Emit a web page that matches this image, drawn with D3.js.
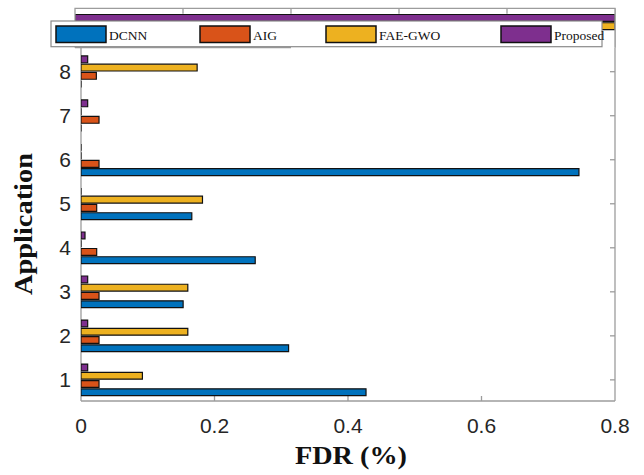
<!DOCTYPE html>
<html>
<head>
<meta charset="utf-8">
<script src="https://cdn.jsdelivr.net/npm/d3@7/dist/d3.min.js"></script>
<style>
  html, body { margin: 0; padding: 0; background: #fff; }
  svg { display: block; }
</style>
</head>
<body>
<svg id="chart" width="644" height="475"></svg>
<script>
// FDR per application for each method
const categories = [1, 2, 3, 4, 5, 6, 7, 8, 9];
const seriesNames = ["DCNN", "AIG", "FAE-GWO", "Proposed"];
const dcnn     = [0.427, 0.311, 0.153, 0.261, 0.166, 0.746, 0, 0, null];
const aig      = [0.027, 0.027, 0.027, 0.0235, 0.0235, 0.027, 0.027, 0.023, null];
const faeGwo   = [0.092, 0.160, 0.160, 0, 0.182, 0, 0, 0.174, 1.0];
const proposed = [0.010, 0.010, 0.010, 0.006, 0, 0, 0.010, 0.010, 1.0];
const xTicks = [0, 0.2, 0.4, 0.6, 0.8];
const yTicks = [1, 2, 3, 4, 5, 6, 7, 8];
const topTicks = [0.2, 0.4, 0.6, 0.8];

const seriesValues = [dcnn, aig, faeGwo, proposed];
const colors = ["#0072BD", "#D95319", "#EDB120", "#7E2F8E"];
const axisGray = "#9c9c9c";

const svg = d3.select("#chart");

// main axes
const x = d3.scaleLinear().domain([0, 0.8]).range([81, 615]);
const y = d3.scaleLinear().domain([0.52, 9.44]).range([401, 8.3]);
// offset of each series inside a category group (category units)
const offset = d3.scaleBand().domain(seriesNames).range([-0.375, 0.375])
  .paddingInner(0.17).paddingOuter(0.085);

// upper strip axes that shows application 9
const xTop = d3.scaleLinear().domain([0, 1]).range([75, 615]);
const yTop = d3.scaleLinear().domain([8.61, 9.5]).range([47.5, 8.3]);

const defs = svg.append("defs");
defs.append("clipPath").attr("id", "clipMain").append("rect")
  .attr("x", x(0)).attr("y", y(9.44)).attr("width", x(0.8) - x(0)).attr("height", y(0.52) - y(9.44));
defs.append("clipPath").attr("id", "clipTop").append("rect")
  .attr("x", xTop(0)).attr("y", yTop(9.5)).attr("width", xTop(1) - xTop(0)).attr("height", yTop(8.61) - yTop(9.5));

// bar as a closed path so zero-length bars still show their edge
function barPath(xs, ys, cat, name, v) {
  const y0 = ys(cat + offset(name)), y1 = ys(cat + offset(name) + offset.bandwidth());
  const a = xs(0), b = xs(v);
  return `M${a},${y0}H${b}V${y1}H${a}Z`;
}

// frame lines of main axes
const frame = svg.append("g").attr("stroke", axisGray).attr("stroke-width", 1.3).attr("fill", "none");
frame.append("line").attr("x1", x(0)).attr("x2", x(0)).attr("y1", y(9.44)).attr("y2", y(0.52));
frame.append("line").attr("x1", x(0.8)).attr("x2", x(0.8)).attr("y1", y(9.44)).attr("y2", y(0.52));
frame.append("line").attr("x1", x(0)).attr("x2", x(0.8)).attr("y1", y(0.52)).attr("y2", y(0.52));
// inward ticks
frame.selectAll(".bt").data(xTicks.slice(1, -1)).join("line")
  .attr("x1", d => x(d)).attr("x2", d => x(d)).attr("y1", y(0.52)).attr("y2", y(0.52) - 5);
frame.selectAll(".rt").data(yTicks).join("line")
  .attr("x1", x(0.8)).attr("x2", x(0.8) - 5).attr("y1", d => y(d)).attr("y2", d => y(d));

// bars of the main axes
const bars = svg.append("g").attr("clip-path", "url(#clipMain)");
seriesNames.forEach((name, si) => {
  const vals = seriesValues[si];
  bars.selectAll(null)
    .data(categories.map((c, i) => ({ c, v: vals[i] })).filter(d => d.v !== null && d.c <= 8))
    .join("path")
    .attr("d", d => barPath(x, y, d.c, name, d.v))
    .attr("fill", colors[si]).attr("stroke", "#111").attr("stroke-width", 1.2);
});

// upper strip
const strip = svg.append("g");
strip.append("rect").attr("x", xTop(0)).attr("y", yTop(9.5))
  .attr("width", xTop(1) - xTop(0)).attr("height", yTop(8.61) - yTop(9.5)).attr("fill", "#fff");
const stripBars = strip.append("g").attr("clip-path", "url(#clipTop)");
seriesNames.forEach((name, si) => {
  const vals = seriesValues[si];
  stripBars.selectAll(null)
    .data(categories.map((c, i) => ({ c, v: vals[i] })).filter(d => d.v !== null && d.c === 9))
    .join("path")
    .attr("d", d => barPath(xTop, yTop, d.c, name, d.v))
    .attr("fill", colors[si]).attr("stroke", "#111").attr("stroke-width", 1.2);
});
const sf = strip.append("g").attr("stroke", axisGray).attr("stroke-width", 1.3).attr("fill", "none");
sf.append("path").attr("d", `M${xTop(0)},${yTop(8.61)}V${yTop(9.5)}H${xTop(1)}V${yTop(8.61)}`);
sf.append("line").attr("x1", xTop(0)).attr("x2", xTop(0.4)).attr("y1", yTop(8.61)).attr("y2", yTop(8.61));
sf.selectAll(".tt").data(topTicks).join("line")
  .attr("x1", d => xTop(d)).attr("x2", d => xTop(d)).attr("y1", yTop(9.5)).attr("y2", yTop(9.5) + 5.5);

// tick labels
const tickFont = "'Liberation Sans', Arial, sans-serif";
svg.append("g").selectAll("text").data(xTicks).join("text")
  .attr("x", d => x(d)).attr("y", 432.5)
  .attr("text-anchor", "middle").attr("font-family", tickFont).attr("font-size", 21)
  .attr("fill", "#262626").text(d => d === 0 ? "0" : d3.format(".1f")(d));
svg.append("g").selectAll("text").data(yTicks).join("text")
  .attr("x", 71).attr("y", d => y(d) + 7.5)
  .attr("text-anchor", "end").attr("font-family", tickFont).attr("font-size", 21)
  .attr("fill", "#262626").text(d => d);

// axis titles
const titleFont = "'Liberation Serif', 'Times New Roman', serif";
svg.append("text").attr("x", 351).attr("y", 464)
  .attr("text-anchor", "middle").attr("font-family", titleFont).attr("font-weight", "bold")
  .attr("font-size", 25).attr("fill", "#111")
  .attr("textLength", 112).attr("lengthAdjust", "spacingAndGlyphs").text("FDR (%)");
svg.append("text").attr("transform", "translate(32,224) rotate(-90)")
  .attr("text-anchor", "middle").attr("font-family", titleFont).attr("font-weight", "bold")
  .attr("font-size", 25).attr("fill", "#111")
  .attr("textLength", 142).attr("lengthAdjust", "spacingAndGlyphs").text("Application");

// legend
const legend = svg.append("g");
legend.append("rect").attr("x", 51).attr("y", 21).attr("width", 551).attr("height", 25.7)
  .attr("fill", "#fff").attr("stroke", "#8a8a8a").attr("stroke-width", 1.2);
const legendX = [56, 200, 326, 501];
seriesNames.forEach((name, i) => {
  legend.append("rect").attr("x", legendX[i]).attr("y", 26).attr("width", 50).attr("height", 16.5)
    .attr("fill", colors[i]).attr("stroke", "#111").attr("stroke-width", 1.5);
  legend.append("text").attr("x", legendX[i] + 53).attr("y", 39.5)
    .attr("font-family", titleFont).attr("font-size", 13.5).attr("fill", "#111").text(name);
});
</script>
</body>
</html>
